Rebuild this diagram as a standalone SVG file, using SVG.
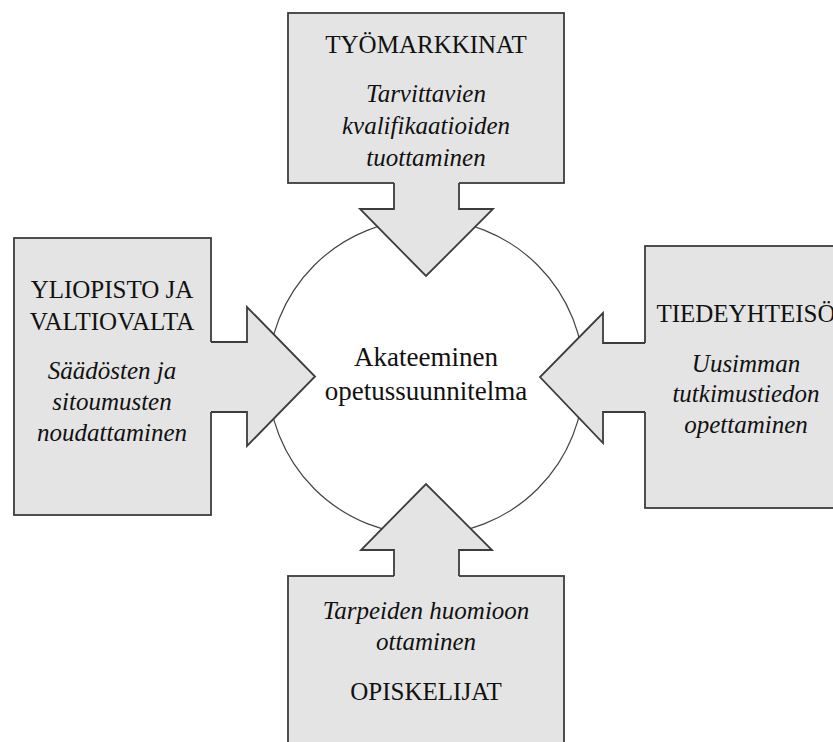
<svg xmlns="http://www.w3.org/2000/svg" width="833" height="742" viewBox="0 0 833 742">
<style>
.box{fill:#e4e4e4;stroke:#3c3c3c;stroke-width:1.8}
.afill{fill:#e4e4e4;stroke:none}
.aline{fill:none;stroke:#3c3c3c;stroke-width:1.8;stroke-linejoin:miter}
.circ{fill:#ffffff;stroke:#444;stroke-width:1.2}
.t{font-size:25px;font-family:'Liberation Serif',serif;fill:#111;text-anchor:middle}
.i{font-size:25px;font-style:italic;font-family:'Liberation Serif',serif;fill:#111;text-anchor:middle}
.c{font-size:27px;font-family:'Liberation Serif',serif;fill:#111;text-anchor:middle}
</style>
<rect width="833" height="742" fill="#ffffff"/>
<g id="center">
<circle class="circ" cx="426" cy="377" r="158"/>
<text class="c" x="426" y="366">Akateeminen</text>
<text class="c" x="426" y="400">opetussuunnitelma</text>
</g>
<g id="tyomarkkinat">
<rect class="box" x="288" y="13" width="276" height="170"/>
<text class="t" x="426" y="53">TYÖMARKKINAT</text>
<text class="i" x="426" y="102">Tarvittavien</text>
<text class="i" x="426" y="134">kvalifikaatioiden</text>
<text class="i" x="426" y="166">tuottaminen</text>
</g>
<g id="yliopisto">
<rect class="box" x="14" y="238" width="197" height="277"/>
<text class="t" x="112" y="298">YLIOPISTO JA</text>
<text class="t" x="112" y="330">VALTIOVALTA</text>
<text class="i" x="112" y="379">Säädösten ja</text>
<text class="i" x="112" y="410">sitoumusten</text>
<text class="i" x="112" y="441">noudattaminen</text>
</g>
<g id="tiedeyhteiso">
<rect class="box" x="645" y="246" width="210" height="262"/>
<text class="t" x="746" y="322">TIEDEYHTEISÖ</text>
<text class="i" x="746" y="372">Uusimman</text>
<text class="i" x="746" y="402">tutkimustiedon</text>
<text class="i" x="746" y="433">opettaminen</text>
</g>
<g id="opiskelijat">
<rect class="box" x="288" y="576" width="276" height="190"/>
<text class="i" x="426" y="619">Tarpeiden huomioon</text>
<text class="i" x="426" y="650">ottaminen</text>
<text class="t" x="426" y="700">OPISKELIJAT</text>
</g>
<g id="connectors">
<path class="afill" d="M394,180 V209 H360 L426,276 L493,209 H459 V180 Z"/>
<path class="aline" d="M394,183 V209 H360 L426,276 L493,209 H459 V183"/>
<path class="afill" d="M208,342 H247 V307 L315,376.5 L247,446 V412 H208 Z"/>
<path class="aline" d="M211,342 H247 V307 L315,376.5 L247,446 V412 H211"/>
<path class="afill" d="M648,343 H603 V313 L540,377 L603,443 V412 H648 Z"/>
<path class="aline" d="M645,343 H603 V313 L540,377 L603,443 V412 H645"/>
<path class="afill" d="M394,579 V550 H361 L426,484 L492,550 H459 V579 Z"/>
<path class="aline" d="M394,576 V550 H361 L426,484 L492,550 H459 V576"/>
</g>
</svg>
